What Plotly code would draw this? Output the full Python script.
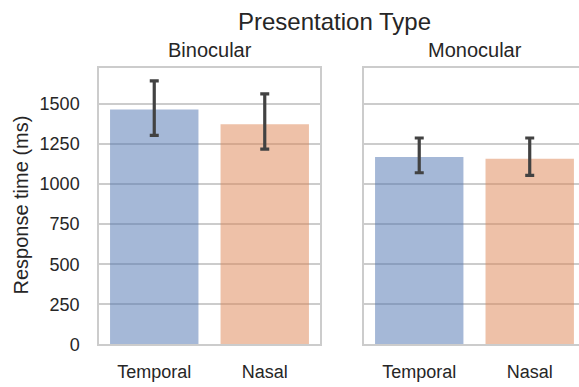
import plotly.graph_objects as go

# Mean response times with 95% confidence intervals, by presentation type
conditions = ["Temporal", "Nasal"]
panels = ["Binocular", "Monocular"]
binocular_mean = [1466, 1373]
binocular_ci_low = [1304, 1218]
binocular_ci_high = [1645, 1564]
monocular_mean = [1170, 1158]
monocular_ci_low = [1071, 1055]
monocular_ci_high = [1288, 1288]
y_ticks = [0, 250, 500, 750, 1000, 1250, 1500]

bar_colors = ["rgba(76,114,176,0.5)", "rgba(221,132,82,0.5)"]
text_color = "#262626"
spine_color = "#cccccc"
err_color = "#424242"
font_family = "Liberation Sans, Arial, sans-serif"

W, H = 579, 387
fig = go.Figure()

series = [
    (binocular_mean, binocular_ci_low, binocular_ci_high, "x", "y"),
    (monocular_mean, monocular_ci_low, monocular_ci_high, "x2", "y2"),
]
for mean, lo, hi, xa, ya in series:
    fig.add_trace(go.Bar(
        x=conditions, y=mean, xaxis=xa, yaxis=ya,
        marker=dict(color=bar_colors, line=dict(width=0)),
        width=0.8,
        error_y=dict(
            type="data", symmetric=False,
            array=[h - m for h, m in zip(hi, mean)],
            arrayminus=[m - l for m, l in zip(mean, lo)],
            color=err_color, thickness=3.2, width=4.5,
        ),
        showlegend=False,
    ))

# Panel box in pixels; the right-hand panel runs past the page edge
y_top, y_bot = 69.3, 353.4
ydom = [1 - y_bot / H, 1 - y_top / H]
yrange = [0, 1728]

axis_common = dict(
    showline=True, linecolor=spine_color, linewidth=1.5,
    showgrid=False, zeroline=False,
    tickfont=dict(size=18, color=text_color, family=font_family),
    ticks="",
)
grid = {"showgrid": True, "gridcolor": spine_color, "gridwidth": 1.5}

fig.update_layout(
    width=W, height=H,
    margin=dict(l=0, r=0, t=0, b=0),
    paper_bgcolor="white", plot_bgcolor="white",
    bargap=0.2,
    font=dict(family=font_family, color=text_color),
    xaxis=dict(domain=[99 / W, 320 / W], range=[-0.5, 1.5], mirror=True,
               ticklabelstandoff=10, **axis_common),
    xaxis2=dict(domain=[364 / W, 1.0], range=[-0.5, 1.446], mirror=True,
                anchor="y2", ticklabelstandoff=10, **axis_common),
    yaxis=dict(domain=ydom, range=yrange, tickvals=y_ticks, mirror=True,
               ticklabelstandoff=14, **{**axis_common, **grid}),
    yaxis2=dict(domain=ydom, range=yrange, tickvals=y_ticks, anchor="x2",
                showticklabels=False, mirror=False,
                **{**axis_common, **grid}),
)

annotations = [
    dict(text="Presentation Type", x=334 / W, y=1 - 22 / H,
         font=dict(size=24)),
    dict(text=panels[0], x=209.5 / W, y=1 - 51 / H, font=dict(size=20)),
    dict(text=panels[1], x=475 / W, y=1 - 51 / H, font=dict(size=20)),
    dict(text="Response time (ms)", x=21 / W, y=1 - 211 / H,
         textangle=-90, font=dict(size=20)),
]
for a in annotations:
    fig.add_annotation(xref="paper", yref="paper", showarrow=False,
                       xanchor="center", yanchor="middle", **a)

fig.write_html("out.html")
